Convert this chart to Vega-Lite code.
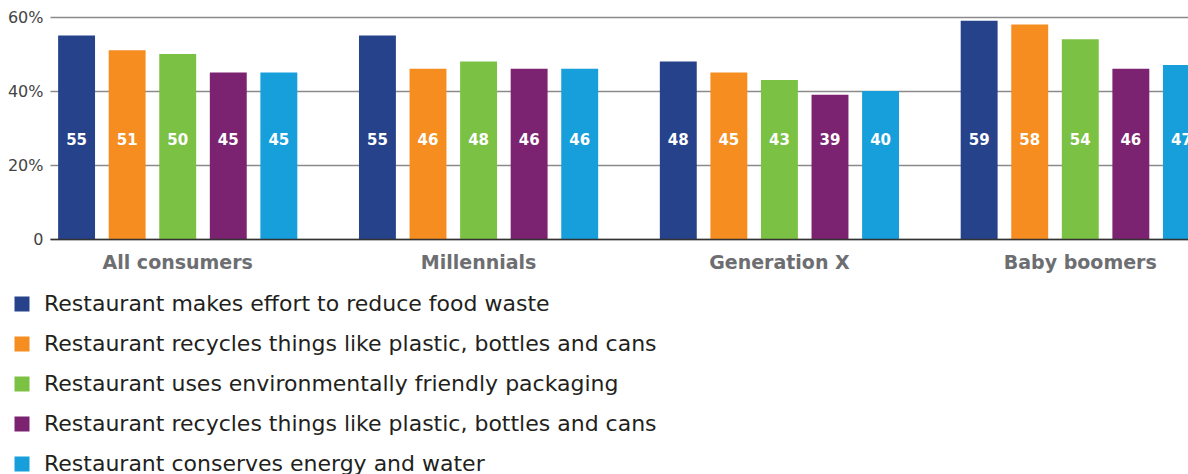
{
  "$schema": "https://vega.github.io/schema/vega-lite/v6.json",
  "autosize": "none",
  "padding": {"left": 50, "top": 17, "right": 0, "bottom": 235},
  "width": 1158,
  "height": 222,
  "background": "white",
  "config": {
    "view": {"stroke": null},
    "font": "DejaVu Sans"
  },
  "data": {
    "values": [
      {"group": "All consumers", "series": "1", "value": 55},
      {"group": "All consumers", "series": "2", "value": 51},
      {"group": "All consumers", "series": "3", "value": 50},
      {"group": "All consumers", "series": "4", "value": 45},
      {"group": "All consumers", "series": "5", "value": 45},
      {"group": "Millennials", "series": "1", "value": 55},
      {"group": "Millennials", "series": "2", "value": 46},
      {"group": "Millennials", "series": "3", "value": 48},
      {"group": "Millennials", "series": "4", "value": 46},
      {"group": "Millennials", "series": "5", "value": 46},
      {"group": "Generation X", "series": "1", "value": 48},
      {"group": "Generation X", "series": "2", "value": 45},
      {"group": "Generation X", "series": "3", "value": 43},
      {"group": "Generation X", "series": "4", "value": 39},
      {"group": "Generation X", "series": "5", "value": 40},
      {"group": "Baby boomers", "series": "1", "value": 59},
      {"group": "Baby boomers", "series": "2", "value": 58},
      {"group": "Baby boomers", "series": "3", "value": 54},
      {"group": "Baby boomers", "series": "4", "value": 46},
      {"group": "Baby boomers", "series": "5", "value": 47}
    ]
  },
  "encoding": {
    "x": {
      "field": "group",
      "type": "nominal",
      "sort": ["All consumers", "Millennials", "Generation X", "Baby boomers"],
      "scale": {"paddingInner": 0.205, "paddingOuter": 0.027},
      "axis": {
        "title": null,
        "labelAngle": 0,
        "labelFontSize": 19,
        "labelFontWeight": "bold",
        "labelColor": "#6d6e71",
        "labelPadding": 14,
        "ticks": false,
        "domainColor": "#333333",
        "domainWidth": 1.5,
        "zindex": 1
      }
    },
    "xOffset": {
      "field": "series",
      "type": "nominal",
      "scale": {"paddingInner": 0.27, "paddingOuter": 0}
    }
  },
  "layer": [
    {
      "mark": {"type": "bar"},
      "encoding": {
        "y": {
          "field": "value",
          "type": "quantitative",
          "scale": {"domain": [0, 60]},
          "axis": {
            "title": null,
            "values": [0, 20, 40, 60],
            "labelExpr": "datum.value == 0 ? '0' : datum.value + '%'",
            "labelFontSize": 16,
            "labelColor": "#444444",
            "labelPadding": 7,
            "ticks": false,
            "domain": false,
            "gridColor": "#8a8a8a",
            "gridWidth": 1.3
          }
        },
        "color": {
          "field": "series",
          "type": "nominal",
          "scale": {
            "domain": ["1", "2", "3", "4", "5"],
            "range": ["#26428b", "#f58d20", "#7bc143", "#7b2370", "#169fdb"]
          },
          "legend": {
            "title": null,
            "orient": "none",
            "legendX": -39,
            "legendY": 276,
            "direction": "vertical",
            "padding": 0,
            "symbolType": "square",
            "symbolSize": 225,
            "symbolStrokeWidth": 0,
            "symbolOpacity": 1,
            "labelFontSize": 22,
            "labelColor": "#231f20",
            "labelOffset": 11,
            "rowPadding": 18,
            "labelLimit": 900,
            "labelExpr": "{'1': 'Restaurant makes effort to reduce food waste', '2': 'Restaurant recycles things like plastic, bottles and cans', '3': 'Restaurant uses environmentally friendly packaging', '4': 'Restaurant recycles things like plastic, bottles and cans', '5': 'Restaurant conserves energy and water'}[datum.label]"
          }
        }
      }
    },
    {
      "mark": {"type": "text", "color": "white", "fontWeight": "bold", "fontSize": 15, "baseline": "middle"},
      "encoding": {
        "y": {"datum": 26.8, "type": "quantitative"},
        "text": {"field": "value", "type": "quantitative"}
      }
    }
  ]
}
